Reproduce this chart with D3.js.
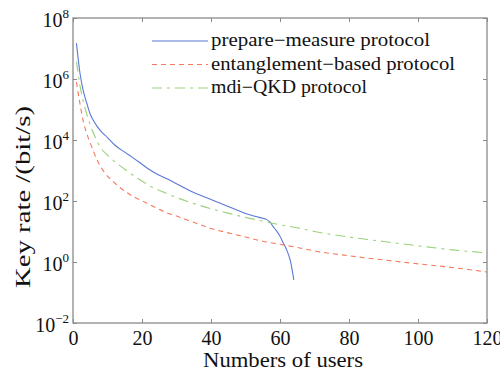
<!DOCTYPE html>
<html>
<head>
<meta charset="utf-8">
<script src="https://cdn.jsdelivr.net/npm/d3@7"></script>
<style>
  body { margin: 0; background: #fff; }
  svg { display: block; font-family: "Liberation Serif", serif; }
</style>
</head>
<body>
<svg id="chart" width="500" height="374"></svg>
<script>
// number of users / key rate (bit/s)
const pmUsers = [1, 2, 3, 4, 5, 6, 7, 8, 10, 12, 15, 17, 20, 22, 25, 28, 30, 35, 40, 45, 48, 50, 53, 55, 56, 57, 58, 59, 60, 61, 62, 63, 64];
const pmRate = [1.5e7, 1.6e6, 4.0e5, 1.6e5, 7.0e4, 4.2e4, 2.8e4, 2.0e4, 1.2e4, 7.0e3, 4.0e3, 2.8e3, 1.6e3, 1.1e3, 700, 490, 370, 190, 112, 66, 48, 39, 31, 27, 25, 21, 14.5, 10.5, 7.0, 4.1, 2.4, 1.1, 0.26];

const ebUsers = [1, 2, 3, 4, 5, 7, 9, 12, 15, 18, 21, 24, 27, 30, 35, 40, 45, 50, 55, 60, 65, 70, 80, 90, 100, 110, 120];
const ebRate = [8e5, 1.6e5, 4e4, 1.6e4, 8e3, 2.2e3, 900, 400, 210, 130, 90, 60, 42, 32, 20, 12.6, 9, 6.6, 4.8, 3.8, 3.0, 2.3, 1.6, 1.17, 0.87, 0.66, 0.47];

const mdiUsers = [1, 2, 3, 4, 5, 6, 8, 10, 12, 15, 18, 20, 23, 26, 30, 35, 40, 45, 50, 55, 60, 65, 70, 80, 90, 100, 110, 120];
const mdiRate = [3.7e6, 6.3e5, 1.8e5, 7e4, 3.1e4, 1.6e4, 5.6e3, 3.2e3, 2.0e3, 1.1e3, 630, 450, 280, 200, 130, 83, 56, 40, 29, 22, 16.6, 13.2, 10, 6.6, 4.7, 3.4, 2.5, 2.0];

const seriesNames = ["prepare\u2212measure protocol", "entanglement\u2212based protocol", "mdi\u2212QKD protocol"];
const xTicks = [0, 20, 40, 60, 80, 100, 120];
const yExps = [-2, 0, 2, 4, 6, 8];

const margin = { left: 73, right: 13, top: 18, bottom: 51 };
const width = 500, height = 374;

const svg = d3.select("#chart");

let x = d3.scaleLinear().domain([0, 120]).range([margin.left, width - margin.right]);
let y = d3.scaleLog().domain([1e-2, 1e8]).range([height - margin.bottom, margin.top]);

const series = [
  { name: seriesNames[0], users: pmUsers, rate: pmRate, color: "#5a78d6", dash: null, len: 219 },
  { name: seriesNames[1], users: ebUsers, rate: ebRate, color: "#f57a5c", dash: "5,4", len: 244 },
  { name: seriesNames[2], users: mdiUsers, rate: mdiRate, color: "#9bd27a", dash: "10,5,3,5", len: 156 }
];

//lines
const line = d3.line().x((d) => x(d[0])).y((d) => y(d[1])).curve(d3.curveMonotoneX);
series.forEach((s) => {
  svg.append("path")
    .datum(s.users.map((u, i) => [u, s.rate[i]]))
    .attr("fill", "none")
    .attr("stroke", s.color)
    .attr("stroke-width", 1.1)
    .attr("stroke-dasharray", s.dash)
    .attr("d", line);
});

//frame
const frameColor = "#8a8a8a";
svg.append("rect")
  .attr("x", x(0)).attr("y", y(1e8))
  .attr("width", x(120) - x(0)).attr("height", y(1e-2) - y(1e8))
  .attr("fill", "none").attr("stroke", frameColor).attr("stroke-width", 1.3);

//axes, ticks pointing inward
svg.append("g")
  .attr("transform", `translate(0,${y(1e-2)})`)
  .call(d3.axisBottom(x).tickValues(xTicks).tickSize(-4).tickPadding(8).tickFormat(d3.format("d")))
  .call((g) => g.select(".domain").remove())
  .call((g) => g.selectAll("line").attr("stroke", frameColor))
  .call((g) => g.selectAll("text").attr("font-size", 20).attr("fill", "#111").attr("font-family", "Liberation Serif"));

svg.append("g")
  .attr("transform", `translate(0,${y(1e8)})`)
  .call(d3.axisTop(x).tickValues(xTicks).tickSize(-4).tickFormat(""))
  .call((g) => g.select(".domain").remove())
  .call((g) => g.selectAll("line").attr("stroke", frameColor));

svg.append("g")
  .attr("transform", `translate(${x(0)},0)`)
  .call(d3.axisLeft(y).tickValues(yExps.map((e) => Math.pow(10, e))).tickSize(-4).tickFormat(""))
  .call((g) => g.select(".domain").remove())
  .call((g) => g.selectAll("line").attr("stroke", frameColor));

svg.append("g")
  .attr("transform", `translate(${x(120)},0)`)
  .call(d3.axisRight(y).tickValues(yExps.map((e) => Math.pow(10, e))).tickSize(-4).tickFormat(""))
  .call((g) => g.select(".domain").remove())
  .call((g) => g.selectAll("line").attr("stroke", frameColor));

//y tick labels as 10^n
yExps.forEach((e) => {
  const t = svg.append("text")
    .attr("x", x(0) - 4)
    .attr("y", y(Math.pow(10, e)) + 9)
    .attr("text-anchor", "end")
    .attr("font-size", 20)
    .attr("fill", "#111");
  t.append("tspan").text("10");
  t.append("tspan").attr("dy", -9).attr("font-size", 13).text(e < 0 ? "\u2212" + (-e) : e);
});

//labels
svg.append("text")
  .attr("x", 283)
  .attr("y", 367)
  .attr("text-anchor", "middle")
  .attr("font-size", 21)
  .attr("textLength", 160)
  .attr("lengthAdjust", "spacingAndGlyphs")
  .attr("fill", "#111")
  .text("Numbers of users");

svg.append("text")
  .attr("transform", "translate(30,197) rotate(-90)")
  .attr("text-anchor", "middle")
  .attr("font-size", 21)
  .attr("textLength", 182)
  .attr("lengthAdjust", "spacingAndGlyphs")
  .attr("fill", "#111")
  .text("Key rate /(bit/s)");

//legend
const legend = svg.append("g").attr("transform", "translate(152,41)");
series.forEach((s, i) => {
  const row = legend.append("g").attr("transform", `translate(0,${i * 23.5})`);
  row.append("line")
    .attr("x1", 0).attr("x2", 56).attr("y1", 0).attr("y2", 0)
    .attr("stroke", s.color).attr("stroke-width", 1.1)
    .attr("stroke-dasharray", s.dash);
  row.append("text")
    .attr("x", 59).attr("y", 5)
    .attr("font-size", 18)
    .attr("textLength", s.len)
    .attr("lengthAdjust", "spacingAndGlyphs")
    .attr("fill", "#111")
    .text(s.name);
});
</script>
</body>
</html>
